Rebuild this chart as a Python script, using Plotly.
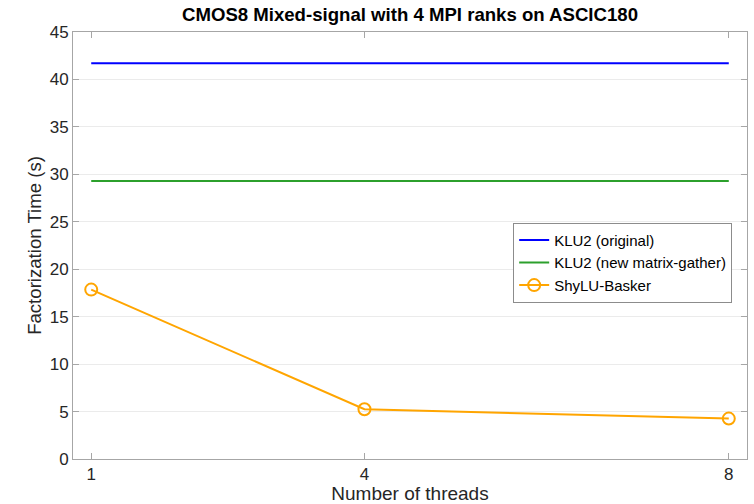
import plotly.graph_objects as go

threads = [1, 4, 8]
klu2_original = [41.7, 41.7, 41.7]
klu2_new = [29.3, 29.3, 29.3]
shylu = [17.85, 5.24, 4.26]

font_family = "Liberation Sans, Arial, Helvetica, sans-serif"
fig = go.Figure()
fig.add_trace(go.Scatter(x=threads, y=klu2_original, mode="lines", name="KLU2 (original)",
                         line=dict(color="#0000ff", width=2)))
fig.add_trace(go.Scatter(x=threads, y=klu2_new, mode="lines", name="KLU2 (new matrix-gather)",
                         line=dict(color="#2ca02c", width=2)))
fig.add_trace(go.Scatter(x=threads, y=shylu, mode="lines+markers", name="ShyLU-Basker",
                         line=dict(color="#ffa500", width=2),
                         marker=dict(symbol="circle-open", size=12, color="#ffa500",
                                     line=dict(width=2, color="#ffa500"))))

fig.update_layout(
    width=754, height=504,
    margin=dict(l=73, r=7, t=32, b=45),
    plot_bgcolor="white", paper_bgcolor="white",
    font=dict(family=font_family, color="#262626", size=17),
    title=dict(text="<b>CMOS8 Mixed-signal with 4 MPI ranks on ASCIC180</b>",
               x=(73 + 747) / 2 / 754, xanchor="center", y=0.972, yanchor="middle",
               font=dict(size=18.6, color="#000000")),
    xaxis=dict(range=[0.8, 8.2], tickvals=threads, ticktext=[str(t) for t in threads],
               showgrid=False, zeroline=False, showline=True, linecolor="#a6a6a6", linewidth=1,
               mirror="ticks", ticks="inside", ticklen=6, tickcolor="#a6a6a6",
               tickfont=dict(size=17), automargin=False,
               title=dict(text="Number of threads", font=dict(size=19), standoff=7)),
    yaxis=dict(range=[0, 45], tickvals=list(range(0, 46, 5)),
               showgrid=True, gridcolor="#ebebeb", zeroline=False, showline=True,
               linecolor="#a6a6a6", linewidth=1, mirror="ticks", ticks="inside", ticklen=6,
               tickcolor="#a6a6a6", tickfont=dict(size=17), automargin=False,
               title=dict(text="Factorization Time (s)", font=dict(size=18.6), standoff=3)),
    legend=dict(x=0.978, y=0.553, xanchor="right", yanchor="top",
                bordercolor="#8c8c8c", borderwidth=1, bgcolor="white",
                font=dict(size=15, color="#000000"), itemwidth=30, tracegroupgap=0),
    showlegend=True,
)
fig.write_html("out.html")
